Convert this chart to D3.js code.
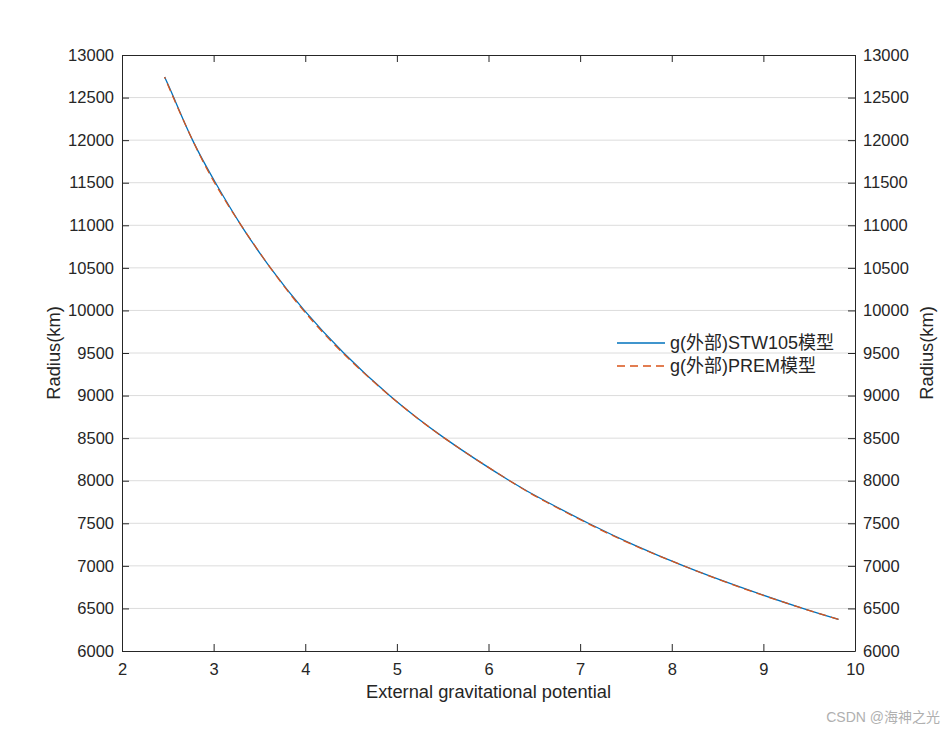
<!DOCTYPE html>
<html><head><meta charset="utf-8">
<script src="https://cdn.jsdelivr.net/npm/d3@7"></script>
<style>body{margin:0;background:#fff}svg{display:block}</style>
</head><body>
<svg id="c" width="945" height="732"></svg>
<script>
const radius = [6371, 6500, 6750, 7000, 7250, 7500, 7750, 8000, 8500, 9000, 9500, 10000, 10500, 11000, 11500, 12000, 12500, 12742];
const gSTW105 = [9.82, 9.43, 8.75, 8.13, 7.58, 7.09, 6.64, 6.23, 5.52, 4.92, 4.42, 3.99, 3.62, 3.30, 3.02, 2.77, 2.565, 2.465];
const gPREM   = [9.82, 9.43, 8.74, 8.13, 7.57, 7.08, 6.63, 6.23, 5.52, 4.92, 4.41, 3.98, 3.62, 3.30, 3.01, 2.77, 2.56, 2.465];
const xTicks = [2, 3, 4, 5, 6, 7, 8, 9, 10];
const yTicks = [6000, 6500, 7000, 7500, 8000, 8500, 9000, 9500, 10000, 10500, 11000, 11500, 12000, 12500, 13000];
const seriesNames = ["g(外部)STW105模型", "g(外部)PREM模型"];
const colors = ["#0072BD", "#D95319"];

const svg = d3.select("#c");
const L = 122, R = 855, T = 55, B = 651;
const x = d3.scaleLinear().domain([2, 10]).range([L, R]);
const y = d3.scaleLinear().domain([6000, 13000]).range([B, T]);
const font = "'Liberation Sans', Arial, sans-serif";

// grid
svg.append("g").selectAll("line").data(yTicks.slice(1, -1)).join("line")
  .attr("x1", L).attr("x2", R).attr("y1", d => y(d)).attr("y2", d => y(d))
  .attr("stroke", "#dcdcdc").attr("stroke-width", 1);

const tl = 7;
function styleAxis(g) {
  g.selectAll("path").attr("stroke", "#262626");
  g.selectAll("line").attr("stroke", "#262626");
  g.selectAll("text").attr("font-family", font).attr("font-size", 16.5).attr("fill", "#262626");
}
svg.append("g").attr("transform", `translate(0,${B})`)
  .call(d3.axisBottom(x).tickValues(xTicks).tickFormat(d3.format("d")).tickSizeInner(-tl).tickSizeOuter(0).tickPadding(12))
  .call(styleAxis);
svg.append("g").attr("transform", `translate(0,${T})`)
  .call(d3.axisTop(x).tickValues(xTicks).tickFormat("").tickSizeInner(-tl).tickSizeOuter(0))
  .call(styleAxis);
svg.append("g").attr("transform", `translate(${L},0)`)
  .call(d3.axisLeft(y).tickValues(yTicks).tickFormat(d3.format("d")).tickSizeInner(-tl).tickSizeOuter(0).tickPadding(8))
  .call(styleAxis);
svg.append("g").attr("transform", `translate(${R},0)`)
  .call(d3.axisRight(y).tickValues(yTicks).tickFormat(d3.format("d")).tickSizeInner(-tl).tickSizeOuter(0).tickPadding(8))
  .call(styleAxis);

// lines
const line = d3.line().curve(d3.curveNatural);
const ptsA = radius.map((r, i) => [x(gSTW105[i]), y(r)]);
const ptsB = radius.map((r, i) => [x(gPREM[i]), y(r)]);
svg.append("path").attr("d", line(ptsA)).attr("fill", "none").attr("stroke", colors[0]).attr("stroke-width", 1.3);
svg.append("path").attr("d", line(ptsB)).attr("fill", "none").attr("stroke", colors[1]).attr("stroke-width", 1.3).attr("stroke-dasharray", "8,5");

// axis labels
svg.append("text").attr("x", (L + R) / 2).attr("y", 698).attr("text-anchor", "middle")
  .attr("font-family", font).attr("font-size", 18.3).attr("fill", "#262626").text("External gravitational potential");
svg.append("text").attr("transform", `translate(60,${(T + B) / 2}) rotate(-90)`).attr("text-anchor", "middle")
  .attr("font-family", font).attr("font-size", 18.3).attr("fill", "#262626").text("Radius(km)");
svg.append("text").attr("transform", `translate(933,${(T + B) / 2}) rotate(-90)`).attr("text-anchor", "middle")
  .attr("font-family", font).attr("font-size", 18.3).attr("fill", "#262626").text("Radius(km)");

// legend
const lg = svg.append("g");
seriesNames.forEach((n, i) => {
  const yy = 343 + i * 23;
  lg.append("line").attr("x1", 617).attr("x2", 665).attr("y1", yy).attr("y2", yy)
    .attr("stroke", colors[i]).attr("stroke-width", 1.3).attr("stroke-dasharray", i ? "8,5" : null);
  lg.append("text").attr("x", 670).attr("y", yy + 6).attr("font-family", "'Liberation Sans', 'Noto Sans CJK SC', sans-serif")
    .attr("font-size", 18).attr("fill", "#262626").text(n);
});

// watermark
svg.append("text").attr("x", 940).attr("y", 722).attr("text-anchor", "end")
  .attr("font-family", "'Liberation Sans', 'Noto Sans CJK SC', sans-serif").attr("font-size", 14)
  .attr("fill", "#b0b0b0").text("CSDN @海神之光");
</script>
</body></html>
